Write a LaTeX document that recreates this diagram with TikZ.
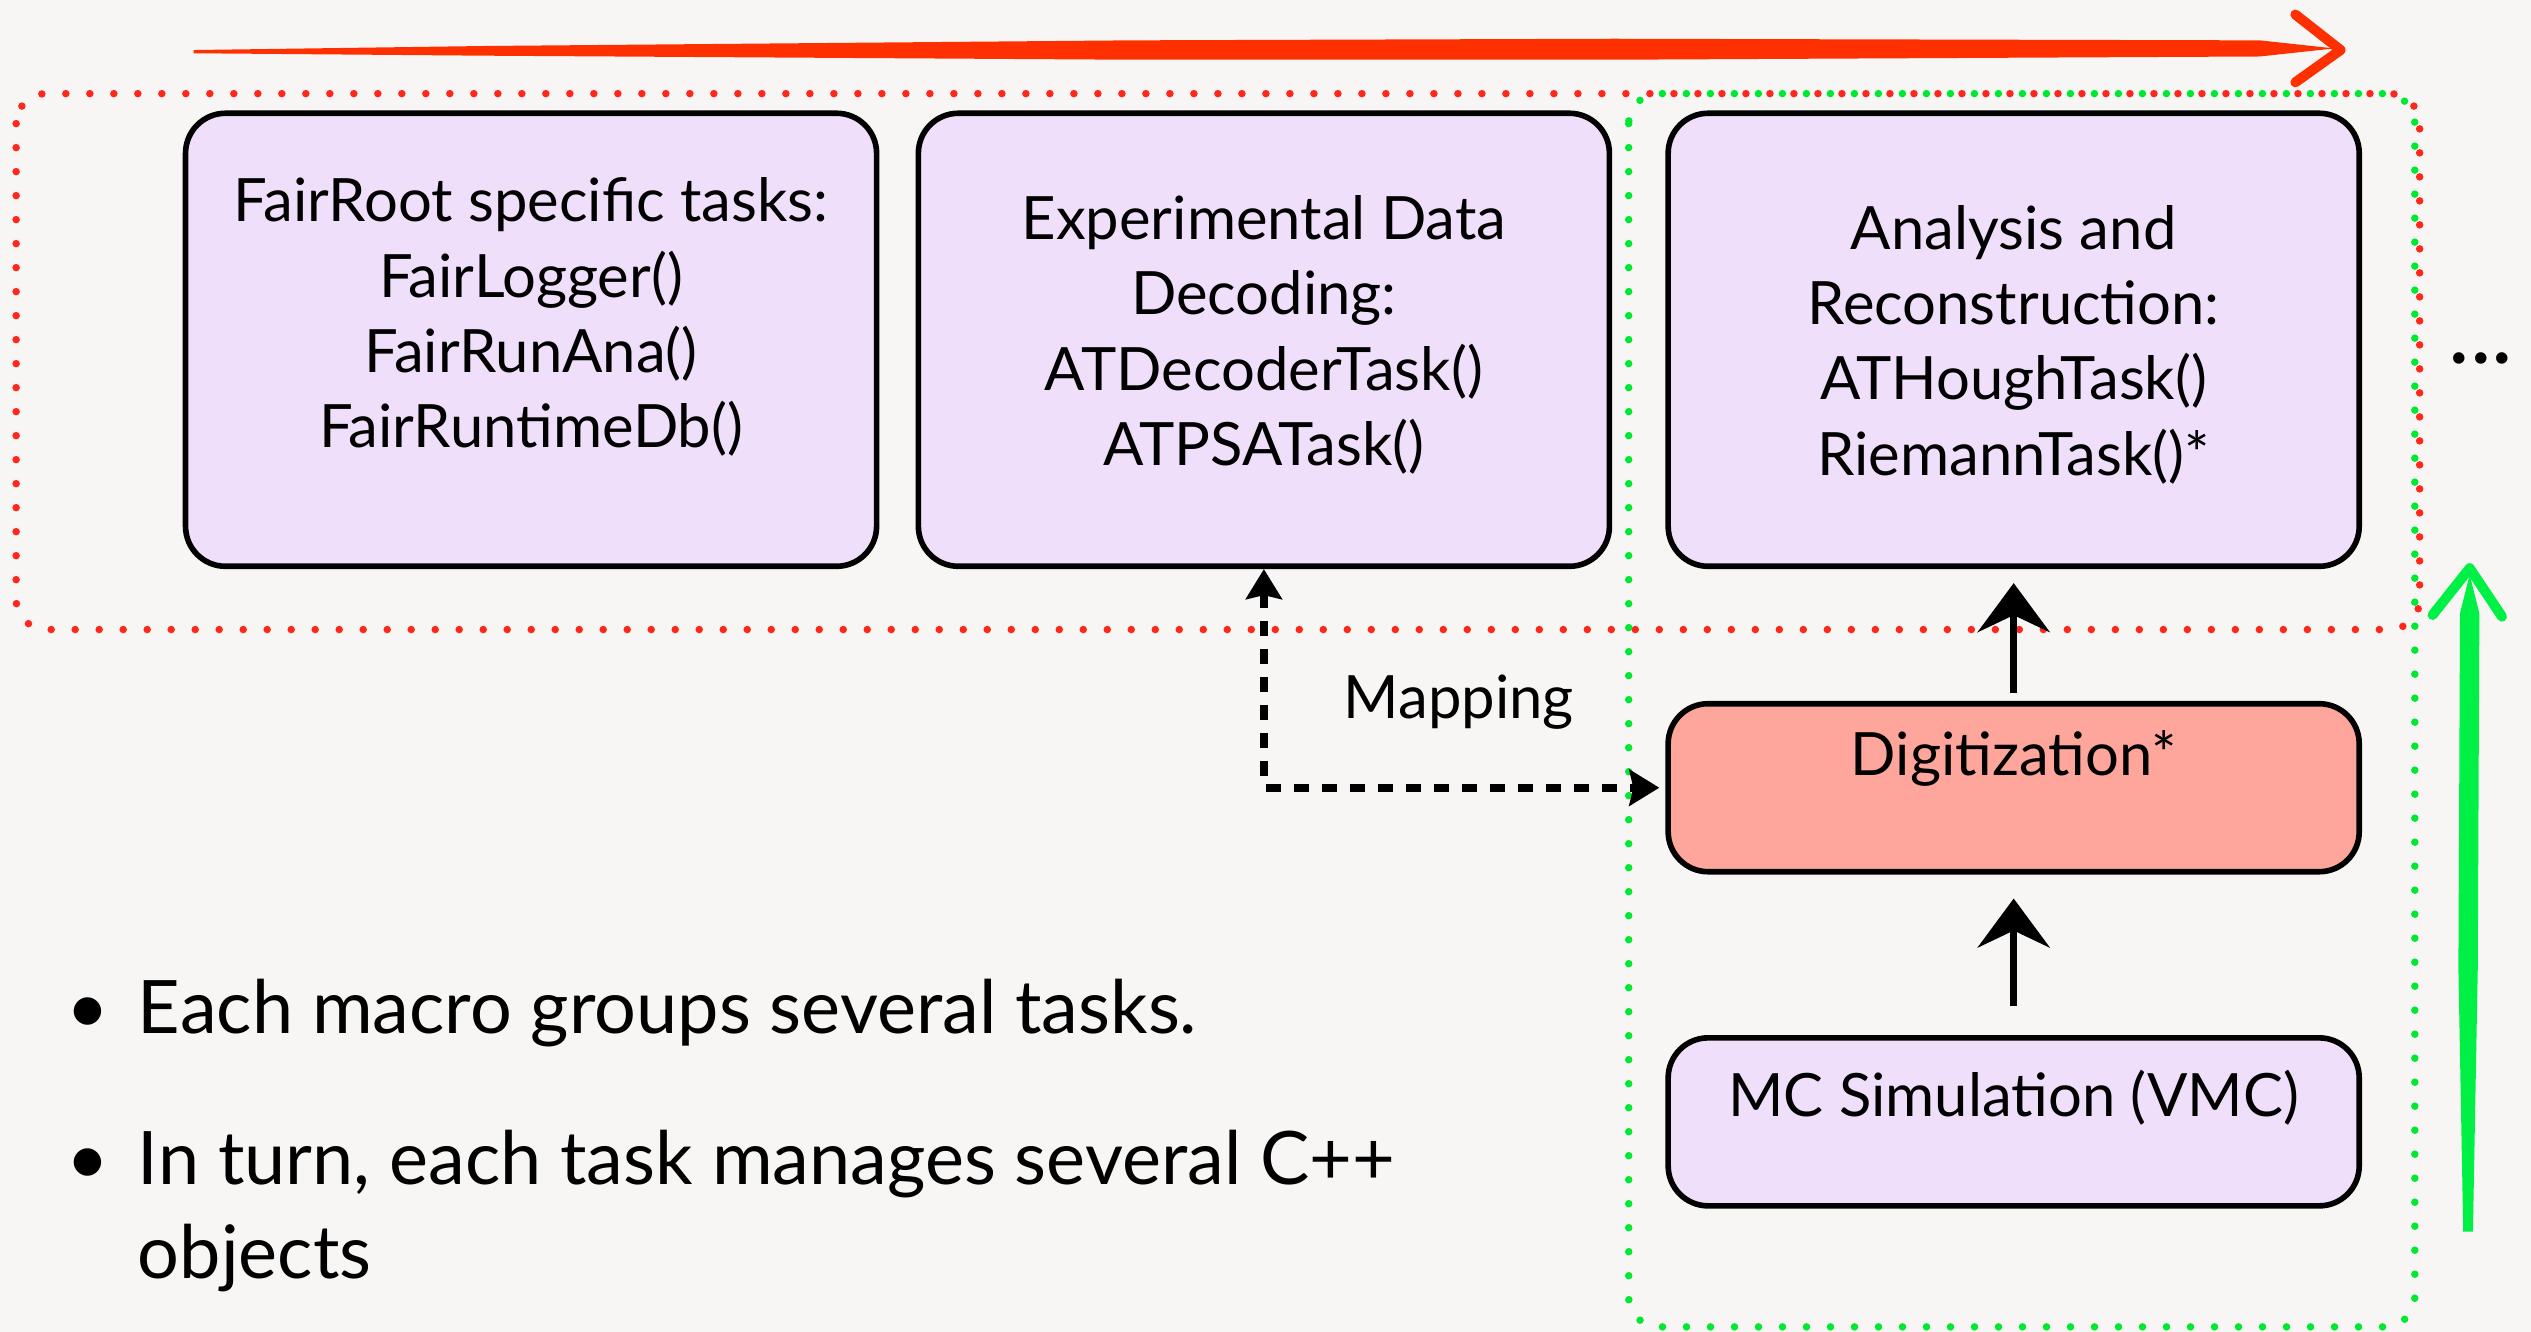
\documentclass[tikz,border=0pt]{standalone}
\usepackage{fontspec}
\setmainfont{Lato}
\usetikzlibrary{arrows.meta,positioning,calc}
\definecolor{paper}{RGB}{247,246,244}
\definecolor{lilac}{RGB}{240,223,250}
\definecolor{salmon}{RGB}{255,166,156}
\definecolor{dotred}{RGB}{255,38,28}
\definecolor{dotgreen}{RGB}{0,232,50}
\definecolor{penred}{RGB}{255,48,0}
\definecolor{pengreen}{RGB}{0,240,70}

\begin{document}
\begin{tikzpicture}[x=0.1614mm,y=-0.1614mm,
          task/.style={draw=black,line width=1.6pt,rounded corners=4mm,fill=lilac,
                       minimum width=69.1mm,minimum height=45.3mm},
          stage/.style={task,minimum height=16.8mm},
          txt/.style={font=\fontsize{17}{21.4}\selectfont,align=center},
          bul/.style={font=\fontsize{21}{26.8}\selectfont,align=left,anchor=base west,inner sep=0pt},
          dotline/.style={line width=0.75mm,line cap=round,dash pattern=on 0pt off 2.4mm,rounded corners=3mm},
          sketch/.style={-{Stealth[length=4.9mm,width=7.2mm,inset=1.7mm]},line width=0.75mm},
          mapar/.style={{Stealth[length=3mm,width=3.6mm,inset=0.4mm]}-{Stealth[length=3mm,width=3.6mm,inset=0.4mm]},
                        line width=0.8mm,dash pattern=on 1.5mm off 1.3mm}
        ]
        \fill[paper] (0,0) rectangle (1568,825);
        \useasboundingbox (0,0) rectangle (1568,825);
        % frames
        \draw[dotline,dotred] (10,58) rectangle (1499,390);
        \draw[dotline,dotgreen] (1009,58) rectangle (1496,822);
        % task boxes
        \node[task] (fair) at (329,210.5) {};
        \node[task] (decode) at (783,210.5) {};
        \node[task] (ana) at (1247.5,210.5) {};
        \node[stage,fill=salmon] (digit) at (1247.5,488) {};
        \node[stage] (mc) at (1247.5,695) {};
        \node[txt] (fairtxt) at ($(fair.center)+(0,-14)$) {FairRoot specific tasks:\\FairLogger()\\FairRunAna()\\FairRuntimeDb()};
        \node[txt] (decodetxt) at ($(decode.center)+(0,-3)$) {Experimental Data\\Decoding:\\ATDecoderTask()\\ATPSATask()};
        \node[txt] (anatxt) at ($(ana.center)+(0,3)$) {Analysis and\\Reconstruction:\\ATHoughTask()\\RiemannTask()*};
        \node[txt] (digittxt) at ($(digit.center)+(0,-18)$) {Digitization*};
        \node[txt] (mctxt) at ($(mc.center)+(0,-15)$) {MC Simulation (VMC)};
        % connectors
        \draw[sketch,shorten <=2.9mm,shorten >=2.4mm] (mc) -- (digit);
        \draw[sketch,shorten <=0.8mm,shorten >=1.4mm] (digit) -- (ana);
        \draw[mapar,shorten >=0.6mm] (decode.south) |- (digit.west);
        \node[txt,anchor=base west,inner sep=0pt] (maplbl) at (832,445) {Mapping};
        \node[txt,font=\fontsize{26}{26}\selectfont] (more) at (1537,222) {...};
        % pen arrows
        \fill[penred] (120,31) -- (300,28.5) -- (700,25) -- (1000,24) -- (1400,25) -- (1446,30)
                      -- (1400,35) -- (1000,37) -- (700,37) -- (300,34.5) -- (120,33) -- cycle;
        \draw[penred,line width=1mm,line join=round,line cap=round] (1422,9) -- (1450,31) -- (1422,51);
        \fill[pengreen] (1526,763) -- (1523,600) -- (1524,380) -- (1530,356) -- (1536,380)
                        -- (1535,600) -- (1532,763) -- cycle;
        \draw[pengreen,line width=1mm,line join=round,line cap=round] (1507,381) -- (1530,352) -- (1550,382);
        % bullets
        \node[bul] (pt1) at (85,640) {\llap{\textbullet\hspace{8pt}}Each macro groups several tasks.};
        \node[bul] (pt2) at (85,792) {\llap{\textbullet\hspace{8pt}}In turn, each task manages several C++\\objects};
\end{tikzpicture}
\end{document}
